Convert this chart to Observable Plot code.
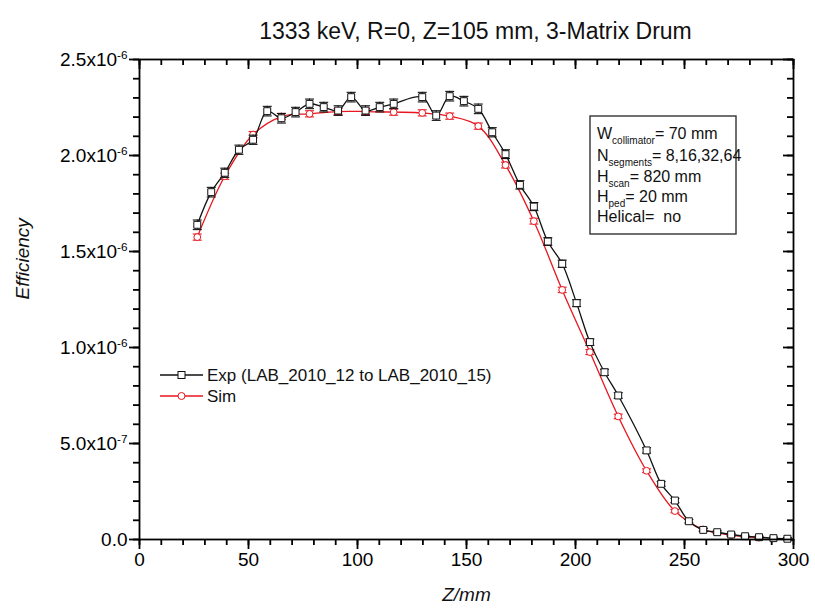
<!DOCTYPE html>
<html><head><meta charset="utf-8">
<script src="https://cdn.jsdelivr.net/npm/d3@7"></script>
<script src="https://cdn.jsdelivr.net/npm/@observablehq/plot@0.6"></script>
<style>
body{margin:0;background:#fff}
svg{font-family:"Liberation Sans",Arial,sans-serif}
</style>
</head><body><div id="chart"></div>
<script>
// ---------- text ----------
const title = "1333 keV, R=0, Z=105 mm, 3-Matrix Drum";
const xLabel = "Z/mm";
const yLabel = "Efficiency";
const expName = "Exp (LAB_2010_12 to LAB_2010_15)";
const simName = "Sim";
const infoLines = [
  ["W", "collimator", "= 70 mm"],
  ["N", "segments", "= 8,16,32,64"],
  ["H", "scan", "= 820 mm"],
  ["H", "ped", "= 20 mm"],
  ["Helical=\u00a0 no", "", ""]
];

// ---------- data (efficiency in units of 1e-6) ----------
const expZ   = [26.5,32.9,39.1,45.6,52.1,58.6,65.1,71.6,78.0,84.5,91.1,97.1,103.7,110.2,116.6,129.7,136.1,142.3,148.8,155.4,161.8,167.9,174.5,180.9,187.3,193.9,200.5,206.6,213.3,219.6,232.6,239.3,245.6,252.0,258.6,265.0,271.4,277.8,284.2,290.8,297.2];
const expEff = [1.639,1.809,1.910,2.030,2.082,2.231,2.194,2.226,2.269,2.252,2.234,2.304,2.234,2.252,2.269,2.304,2.208,2.309,2.283,2.243,2.121,2.007,1.847,1.734,1.552,1.436,1.231,1.028,0.871,0.750,0.464,0.290,0.203,0.095,0.050,0.038,0.026,0.017,0.012,0.007,0.004];
const expErr = [0.025,0.025,0.024,0.024,0.024,0.025,0.025,0.025,0.025,0.025,0.025,0.025,0.025,0.025,0.025,0.025,0.025,0.025,0.025,0.025,0.024,0.023,0.022,0.021,0.020,0.019,0.018,0.017,0.016,0.015,0.014,0.012,0.011,0.009,0.008,0.007,0.007,0.006,0.006,0.006,0.006];

const simZ   = [26.5,39.1,52.1,65.1,78.0,91.1,103.7,116.6,129.7,142.3,155.4,167.9,180.9,193.9,206.6,219.6,232.6,245.6,258.6,271.4,284.2];
const simEff = [1.575,1.892,2.109,2.203,2.217,2.229,2.229,2.226,2.222,2.205,2.153,1.950,1.658,1.300,0.976,0.641,0.358,0.148,0.052,0.023,0.010];
const simErr = [0.016,0.016,0.016,0.016,0.016,0.016,0.016,0.016,0.016,0.016,0.016,0.015,0.015,0.014,0.013,0.012,0.010,0.009,0.007,0.006,0.006];

// ---------- ticks ----------
const xTicks = [0,50,100,150,200,250,300];
const xMinorTicks = d3.range(0, 301, 10);
const yTicks = [0, 0.5e-6, 1.0e-6, 1.5e-6, 2.0e-6, 2.5e-6];
const yTickLabels = ["0.0", "5.0x10^-7", "1.0x10^-6", "1.5x10^-6", "2.0x10^-6", "2.5x10^-6"];
const yMinorTicks = d3.range(0, 26).map(i => i * 1e-7);

// ---------- tables ----------
const exp = expZ.map((z, i) => ({z, e: expEff[i] * 1e-6, err: expErr[i] * 1e-6}));
const sim = simZ.map((z, i) => ({z, e: simEff[i] * 1e-6, err: simErr[i] * 1e-6}));

const W = 815, H = 616, mL = 139, mR = 22, mT = 59, mB = 77;
const fW = W - mL - mR, fH = H - mT - mB;
const RED = "#e8161e";
const TW = 1.8;
const TC = "#000";

const cap = {draw(ctx, size){ const r = Math.sqrt(size / Math.PI); ctx.moveTo(-r, 0); ctx.lineTo(r, 0); }};

function series(data, color, symbol, r, capR, sw) {
  return [
    Plot.line(data, {x: "z", y: "e", stroke: color, strokeWidth: sw, curve: "catmull-rom"}),
    Plot.ruleX(data, {x: "z", y1: d => d.e - d.err, y2: d => d.e + d.err, stroke: color, strokeWidth: 1}),
    Plot.dot(data, {x: "z", y: d => d.e + d.err, symbol: cap, r: capR, stroke: color, strokeWidth: 1.1, fill: "none"}),
    Plot.dot(data, {x: "z", y: d => d.e - d.err, symbol: cap, r: capR, stroke: color, strokeWidth: 1.1, fill: "none"}),
    Plot.dot(data, {x: "z", y: "e", symbol, r, fill: "white", stroke: color, strokeWidth: 1})
  ];
}

const chart = Plot.plot({
  width: W, height: H,
  marginLeft: mL, marginRight: mR, marginTop: mT, marginBottom: mB,
  x: {domain: [0, 300], label: null},
  y: {domain: [0, 2.5e-6], label: null},
  style: {fontFamily: '"Liberation Sans", Arial, sans-serif', color: "#000", background: "white"},
  marks: [
    Plot.axisX(xMinorTicks, {tickSize: 6, stroke: TC, strokeWidth: TW, tickFormat: () => "", label: null}),
    Plot.axisX(xTicks, {tickSize: 10, stroke: TC, strokeWidth: TW, tickPadding: 3, fontSize: 19, label: null, tickFormat: d => String(d)}),
    Plot.axisY(yMinorTicks, {tickSize: 6, stroke: TC, strokeWidth: TW, tickFormat: () => "", label: null}),
    Plot.axisY(yTicks, {tickSize: 10, stroke: TC, strokeWidth: TW, tickPadding: 2, fontSize: 19, label: null,
      tickFormat: d => yTickLabels[yTicks.indexOf(d)]}),
    Plot.tickX(xMinorTicks, {x: d => d, insetBottom: fH - 6, stroke: TC, strokeWidth: TW}),
    Plot.tickX(xTicks, {x: d => d, insetBottom: fH - 10, stroke: TC, strokeWidth: TW}),
    Plot.tickY(yMinorTicks, {y: d => d, insetLeft: fW - 6, stroke: TC, strokeWidth: TW}),
    Plot.tickY(yTicks, {y: d => d, insetLeft: fW - 10, stroke: TC, strokeWidth: TW}),
    ...series(sim, RED, "circle", 3.4, 4.5, 1.3),
    ...series(exp, "#111", "square", 3.9, 4.5, 1.3),
    Plot.frame({stroke: "#000", strokeWidth: 1.8}),
    Plot.text([title], {text: d => d, frameAnchor: "top", dy: -37, dx: 9, fontSize: 23, fill: "#111"}),
    Plot.text([xLabel], {text: d => d, frameAnchor: "bottom", dy: 61, fontSize: 19, fontStyle: "italic", fill: "#111"}),
    Plot.text([yLabel], {text: d => d, frameAnchor: "left", dx: -117, rotate: -90, fontSize: 19, fontStyle: "italic", fill: "#111"})
  ]
});

document.getElementById("chart").appendChild(chart);

d3.select(chart).selectAll("text").each(function() {
  const t = this.textContent;
  if (t.includes("^")) {
    const [base, ex] = t.split("^");
    const s = d3.select(this);
    s.text(null);
    s.append("tspan").text(base);
    s.append("tspan").attr("dy", "-0.55em").attr("font-size", "0.62em").text(ex);
  }
});

const svg = d3.select(chart);
const leg = svg.append("g").attr("font-size", 17).attr("fill", "#111").attr("text-anchor", "start");
[[expName, "#111", "square", 375], [simName, RED, "circle", 396]].forEach(([name, color, sym, y]) => {
  leg.append("line").attr("x1", 160).attr("x2", 203).attr("y1", y).attr("y2", y).attr("stroke", color).attr("stroke-width", 1.3);
  if (sym === "square") {
    leg.append("rect").attr("x", 178).attr("y", y - 3.5).attr("width", 7).attr("height", 7).attr("fill", "white").attr("stroke", color);
  } else {
    leg.append("circle").attr("cx", 181.5).attr("cy", y).attr("r", 3.5).attr("fill", "white").attr("stroke", color);
  }
  leg.append("text").attr("x", 207).attr("y", y).attr("dy", "0.35em").text(name);
});
const box = svg.append("g").attr("text-anchor", "start");
box.append("rect").attr("x", 590).attr("y", 116).attr("width", 146).attr("height", 118)
  .attr("fill", "white").attr("stroke", "#333").attr("stroke-width", 1.4);
const baselines = [139, 161, 182, 202, 222];
infoLines.forEach(([a, sub, rest], i) => {
  const t = box.append("text").attr("x", 597).attr("y", baselines[i]).attr("font-size", 16).attr("fill", "#111");
  t.append("tspan").text(a);
  if (sub) {
    t.append("tspan").attr("dy", 5).attr("font-size", 10).text(sub);
    t.append("tspan").attr("dy", -5).text(rest);
  }
});
</script>
</body></html>
